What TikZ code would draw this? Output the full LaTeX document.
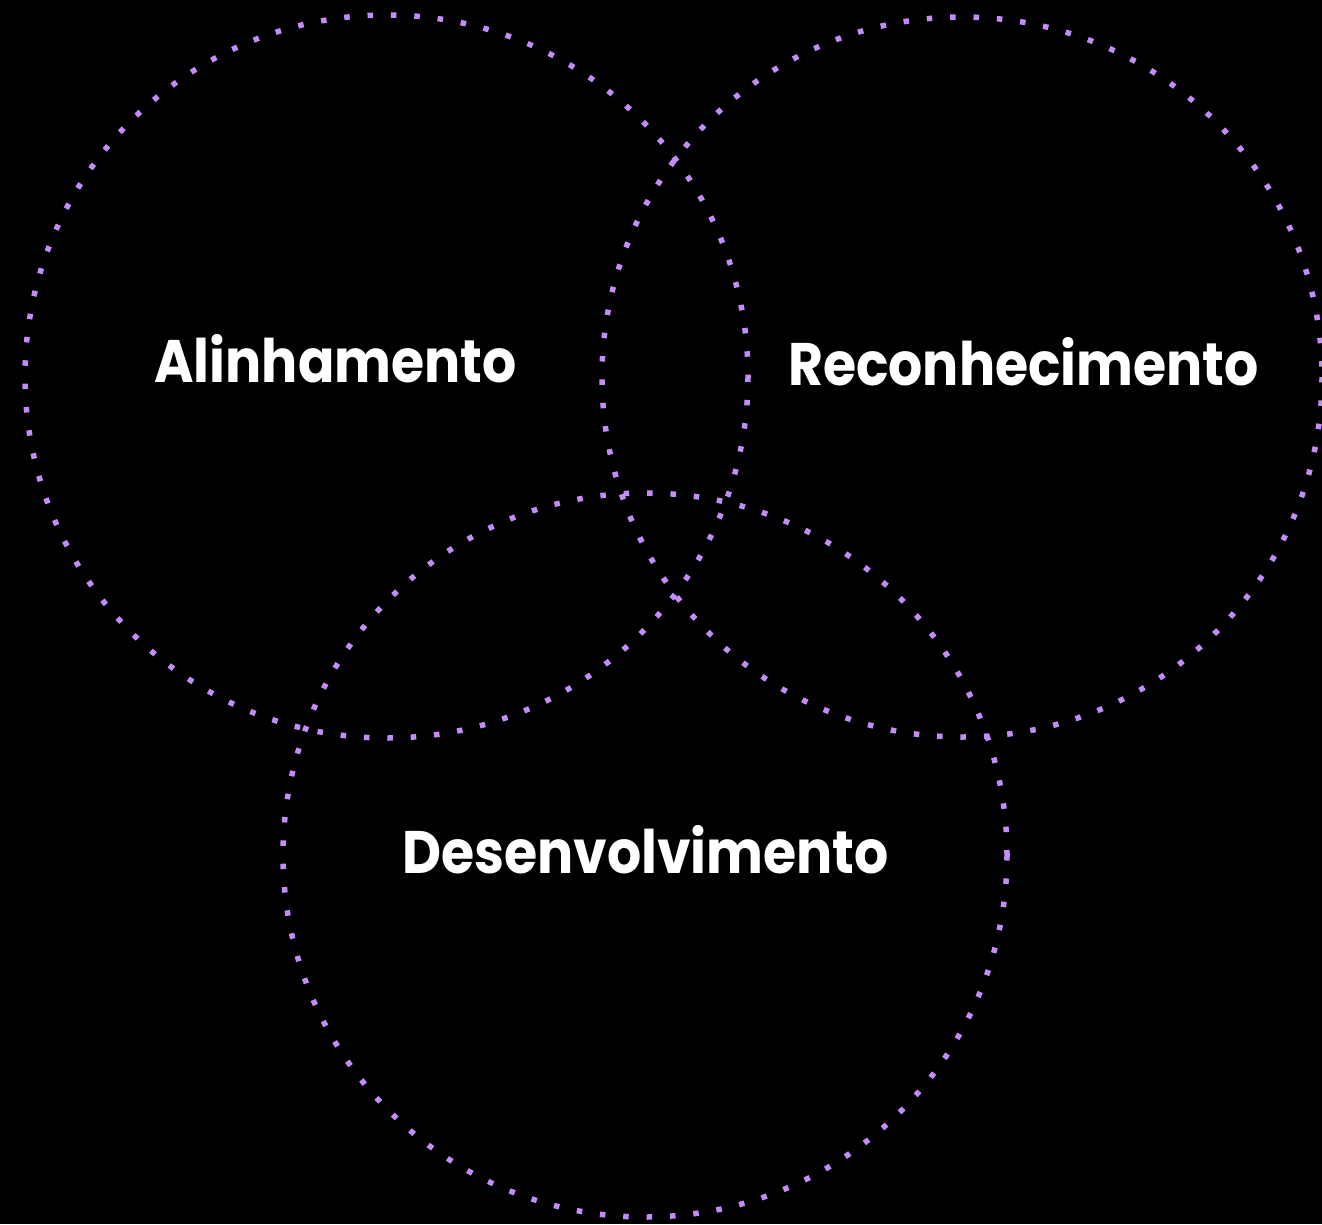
\documentclass[tikz,border=0pt]{standalone}
\usepackage{fontspec}
\setmainfont{Poppins}
\definecolor{dotpurple}{RGB}{196,140,250}
\newcommand{\lbltext}[1]{\scalebox{0.895}[1]{#1}}
\begin{document}
\begin{tikzpicture}[x=1pt,y=-1pt,
  ring/.style={draw=dotpurple,line width=5.5pt,dash pattern=on 5.5pt off 17.9pt},
  lbl/.style={text=white,font=\fontsize{60}{64}\selectfont\bfseries,inner sep=0pt}]
\fill[black] (0,0) rectangle (1322,1224);
\useasboundingbox (0,0) rectangle (1322,1224);
\draw[ring] (386.5,376.5) circle[radius=361.5];
\draw[ring] (962,377) circle[radius=360];
\draw[ring] (645,855) circle[radius=362];
\node[lbl] (a) at (335.5,359) {\lbltext{Alinhamento}};
\node[lbl] (r) at (1023.5,362) {\lbltext{Reconhecimento}};
\node[lbl] (d) at (645.5,850) {\lbltext{Desenvolvimento}};
\end{tikzpicture}
\end{document}
